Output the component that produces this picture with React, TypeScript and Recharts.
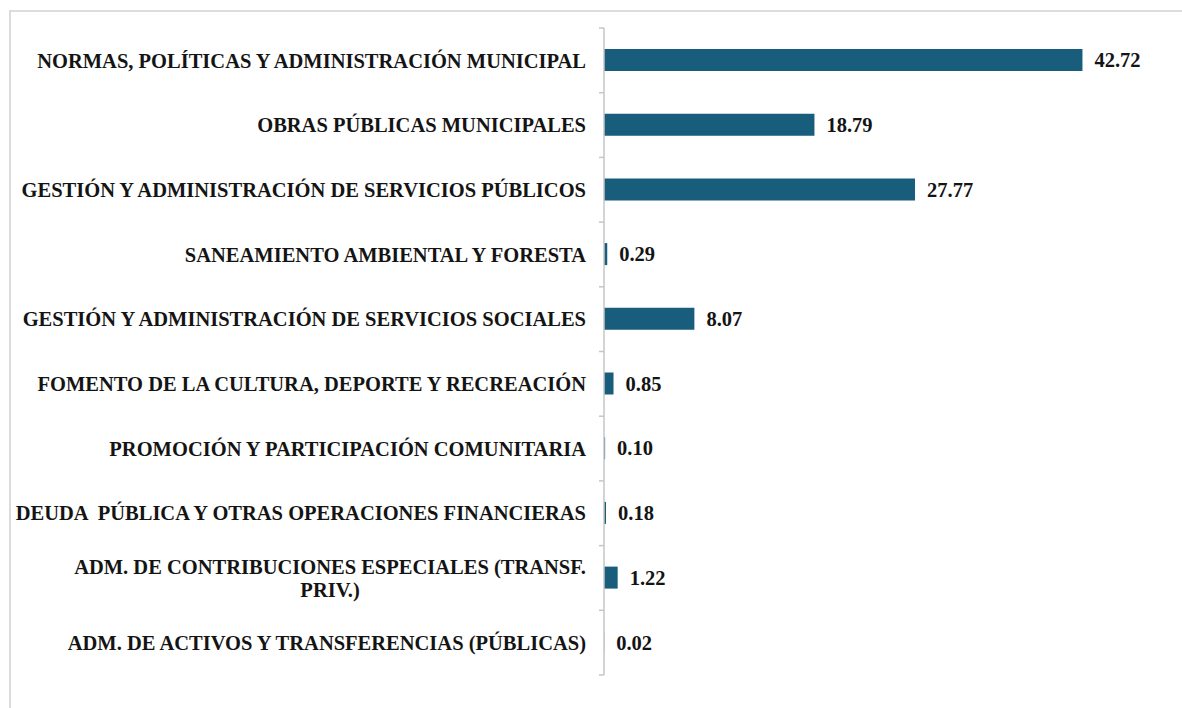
import { BarChart, Bar, XAxis, YAxis, LabelList } from 'recharts'

const categories = [
    'NORMAS, POLÍTICAS Y ADMINISTRACIÓN MUNICIPAL',
    'OBRAS PÚBLICAS MUNICIPALES',
    'GESTIÓN Y ADMINISTRACIÓN DE SERVICIOS PÚBLICOS',
    'SANEAMIENTO AMBIENTAL Y FORESTA',
    'GESTIÓN Y ADMINISTRACIÓN DE SERVICIOS SOCIALES',
    'FOMENTO DE LA CULTURA, DEPORTE Y RECREACIÓN',
    'PROMOCIÓN Y PARTICIPACIÓN COMUNITARIA',
    'DEUDA  PÚBLICA Y OTRAS OPERACIONES FINANCIERAS',
    'ADM. DE CONTRIBUCIONES ESPECIALES (TRANSF.\nPRIV.)',
    'ADM. DE ACTIVOS Y TRANSFERENCIAS (PÚBLICAS)',
]

const shares = [42.72, 18.79, 27.77, 0.29, 8.07, 0.85, 0.1, 0.18, 1.22, 0.02]

const data = categories.map((name, i) => ({ name, value: shares[i] }))

const FONT = '"Liberation Serif", "Times New Roman", serif'
const FONT_SIZE = 20.5
const BAR_COLOR = '#185d7c'
const AXIS_COLOR = '#c6c6c6'
const TOP = 28
const BOTTOM = 675
const BAND = (BOTTOM - TOP) / categories.length

let ctx: CanvasRenderingContext2D | null = null
function textWidth(s: string) {
    if (!ctx) ctx = document.createElement('canvas').getContext('2d')
    if (!ctx) return s.length * 10
    ctx.font = `bold ${FONT_SIZE}px ${FONT}`
    return ctx.measureText(s).width
}

// Excel-style category label: right aligned, wrapped lines centred on each other,
// tick marks sit on the band boundaries instead of the band centre
const CategoryTick = ({ x, y, payload, index }: any) => {
    const lines: string[] = String(payload.value).split('\n')
    const right = x - 18
    const lineH = 23
    const widest = Math.max(...lines.map(textWidth))
    const multi = lines.length > 1
    const startY = y - ((lines.length - 1) * lineH) / 2
    return (
        <g>
            <line x1={x - 5} x2={x} y1={y - BAND / 2} y2={y - BAND / 2} stroke={AXIS_COLOR} strokeWidth={1.5} />
            {index === categories.length - 1 && (
                <line x1={x - 5} x2={x} y1={y + BAND / 2} y2={y + BAND / 2} stroke={AXIS_COLOR} strokeWidth={1.5} />
            )}
            <text
                fontFamily={FONT}
                fontSize={FONT_SIZE}
                fontWeight="bold"
                fill="#141414"
                style={{ whiteSpace: 'pre' }}
            >
                {lines.map((line, i) => (
                    <tspan
                        key={i}
                        x={multi ? right - widest / 2 : right}
                        y={startY + i * lineH}
                        dy="0.35em"
                        textAnchor={multi ? 'middle' : 'end'}
                    >
                        {line}
                    </tspan>
                ))}
            </text>
        </g>
    )
}

export default function App() {
    return (
        <div style={{ position: 'fixed', left: 0, top: 0, width: 1182, height: 708, overflow: 'hidden', background: '#fff' }}>
            <div
                style={{
                    position: 'absolute',
                    left: 9,
                    top: 10,
                    width: 1180,
                    height: 700,
                    borderTop: '2px solid #dcdcdc',
                    borderLeft: '2px solid #dcdcdc',
                }}
            />
            <div style={{ position: 'absolute', left: 0, top: 0 }}>
                <BarChart
                    width={1182}
                    height={708}
                    data={data}
                    layout="vertical"
                    margin={{ top: TOP, right: 18, bottom: 708 - BOTTOM, left: 0 }}
                    barSize={22}
                >
                    <XAxis type="number" domain={[0, 50]} hide />
                    <YAxis
                        type="category"
                        dataKey="name"
                        width={604}
                        interval={0}
                        axisLine={{ stroke: AXIS_COLOR, strokeWidth: 1.5 }}
                        tickLine={false}
                        tickSize={0}
                        tickMargin={0}
                        tick={<CategoryTick />}
                    />
                    <Bar dataKey="value" fill={BAR_COLOR} isAnimationActive={false}>
                        <LabelList
                            dataKey="value"
                            position="right"
                            offset={12}
                            formatter={(v: any) => Number(v).toFixed(2)}
                            style={{ fontFamily: FONT, fontSize: FONT_SIZE, fontWeight: 'bold', fill: '#141414' }}
                        />
                    </Bar>
                </BarChart>
            </div>
        </div>
    )
}
